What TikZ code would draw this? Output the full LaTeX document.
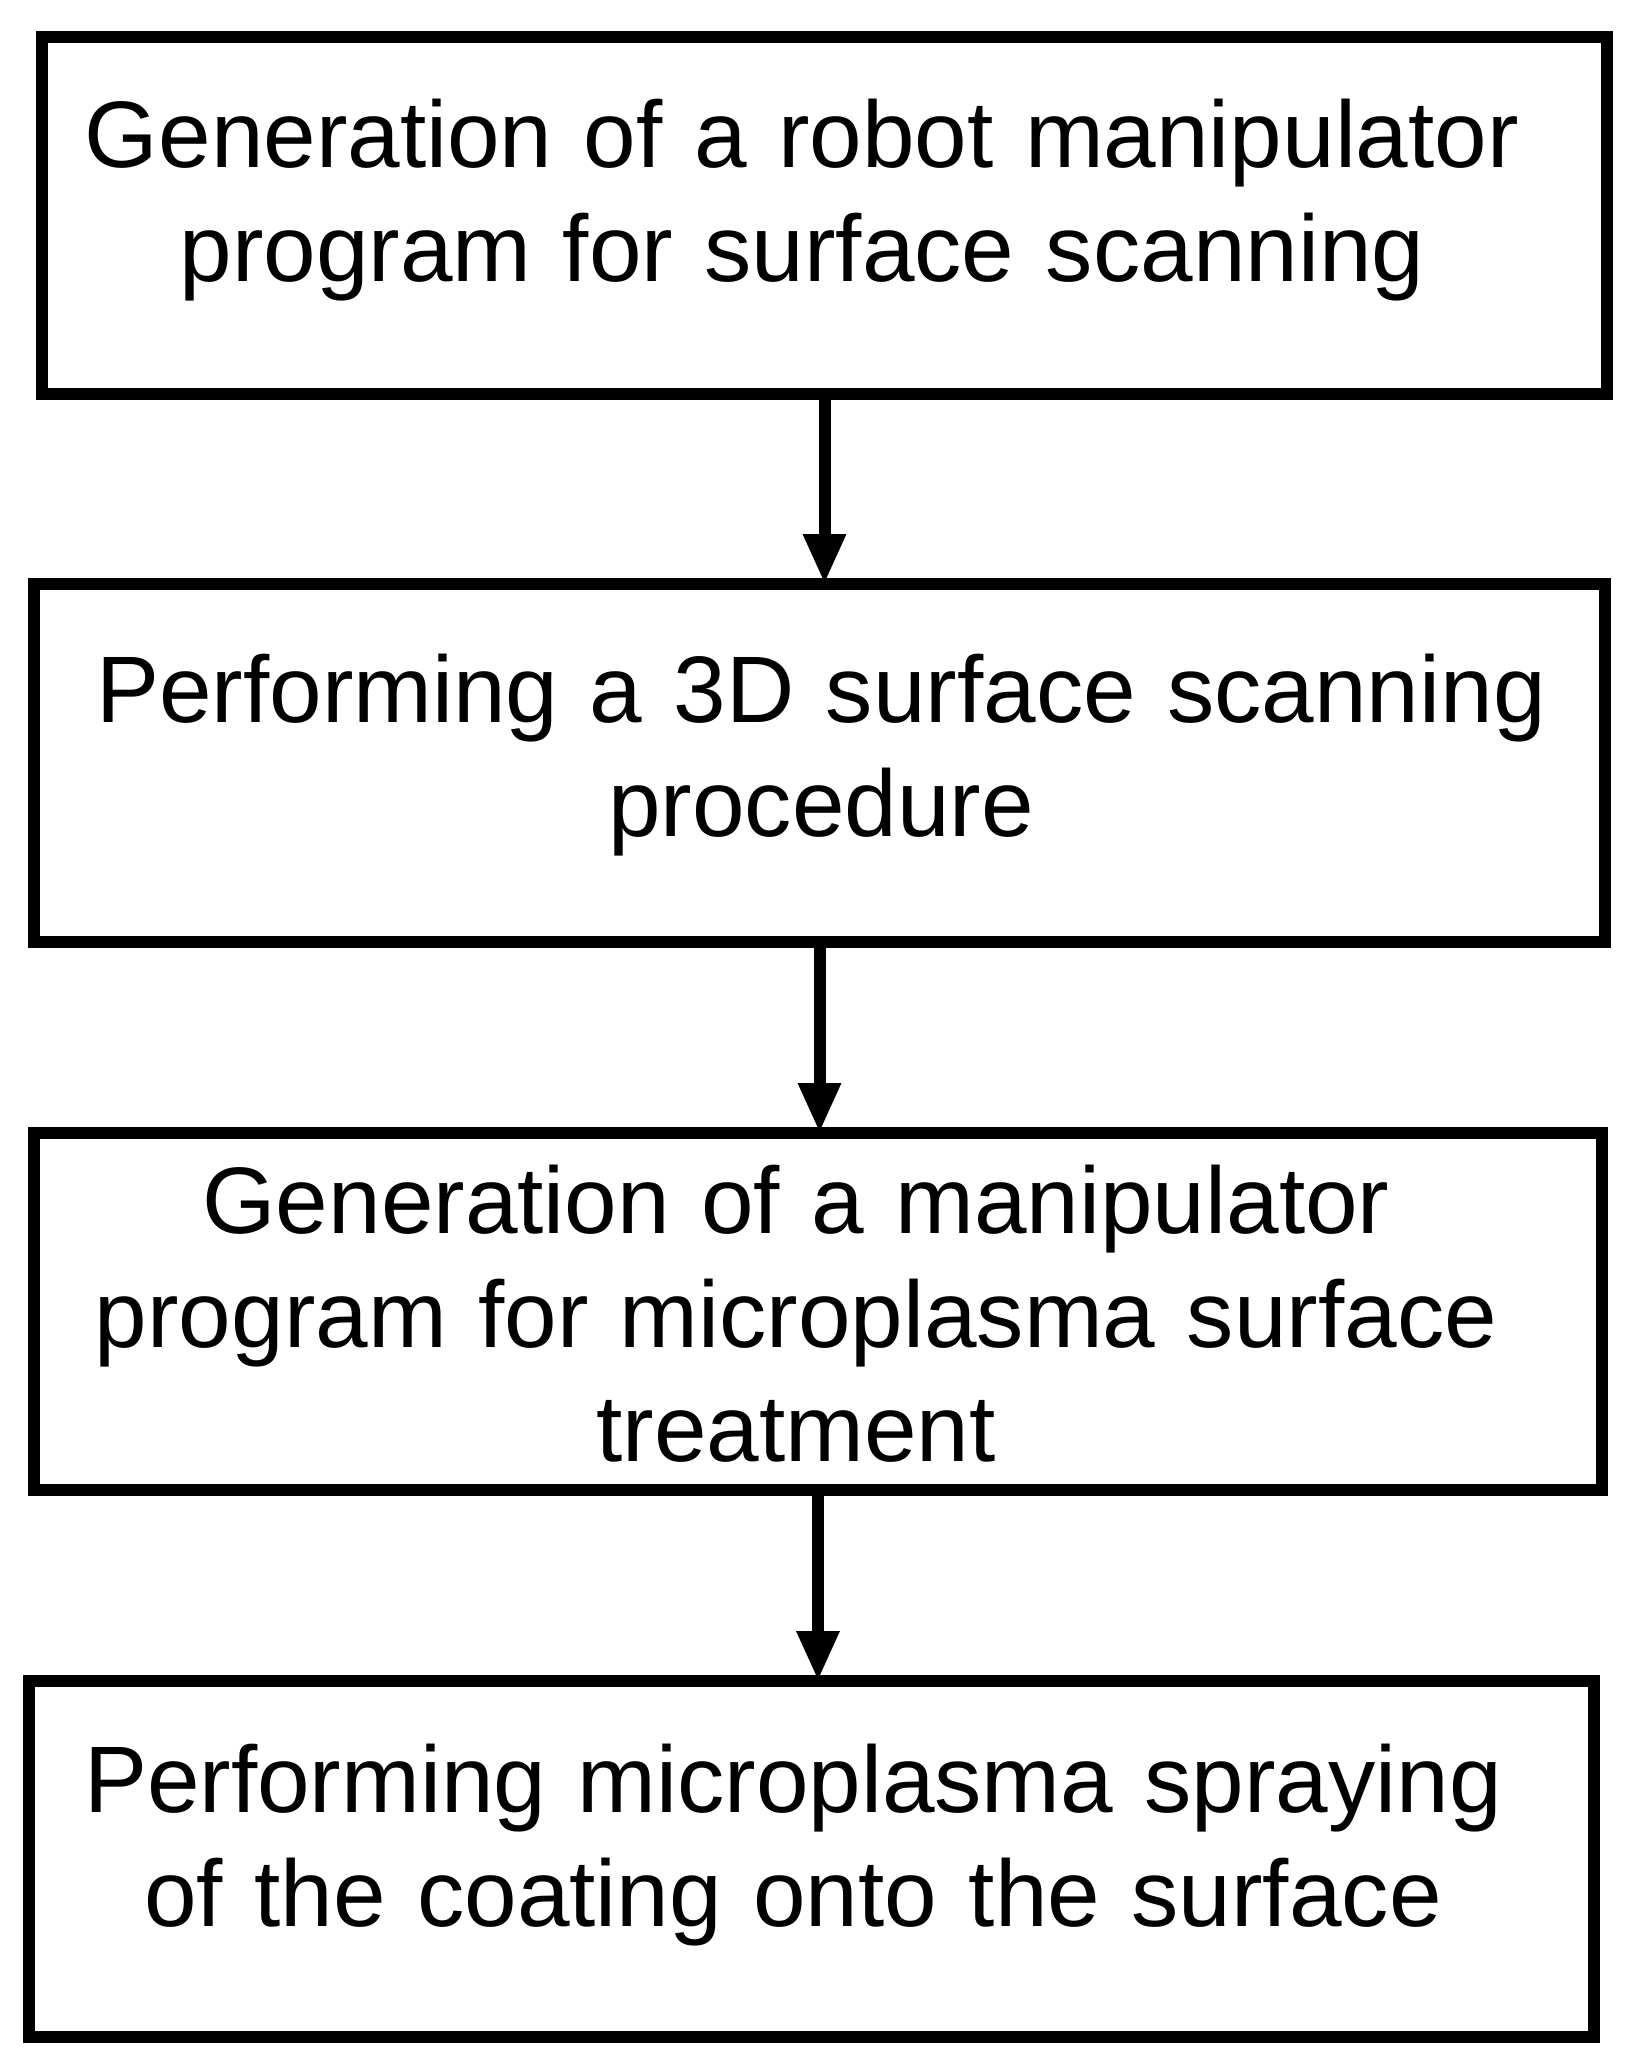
\documentclass[tikz,border=0pt]{standalone}
\usepackage{fontspec}
\setmainfont{Liberation Sans}
\usetikzlibrary{arrows.meta, positioning}

\begin{document}
\begin{tikzpicture}[x=1pt, y=-1pt,
    stepbox/.style={draw, line width=12pt, inner sep=0pt, outer sep=0pt},
    steptext/.style={anchor=base, text width=1560pt, align=center, inner sep=0pt,
        font=\fontsize{94.5}{114}\selectfont},
    flowarrow/.style={line width=12pt, -{Triangle[length=50pt, width=40pt]}}]
% Page
\fill[white] (0,0) rectangle (1634,2072);
\useasboundingbox (0,0) rectangle (1634,2072);
% Boxes
\node[stepbox, minimum width=1565pt, minimum height=357pt] (b1) at (824.5,215.5) {};
\node[stepbox, minimum width=1571pt, minimum height=358pt] (b2) at (819.5,763) {};
\node[stepbox, minimum width=1568pt, minimum height=357pt] (b3) at (818,1311.5) {};
\node[stepbox, minimum width=1565pt, minimum height=356pt] (b4) at (811.5,1859) {};
% Texts
\node[steptext] (t1) at (802,167) {Generation of a robot manipulator\\program for surface scanning};
\node[steptext] (t2) at (821,722) {Performing a 3D surface scanning\\procedure};
\node[steptext] (t3) at (796,1233) {Generation of a manipulator\\program for microplasma surface\\treatment};
\node[steptext] (t4) at (793,1812) {Performing microplasma spraying\\of the coating onto the surface};
% Arrows
\foreach \from/\to in {b1/b2, b2/b3, b3/b4}
    \draw[flowarrow] (\from.south) -- (\from.south |- \to.north);
\end{tikzpicture}
\end{document}
